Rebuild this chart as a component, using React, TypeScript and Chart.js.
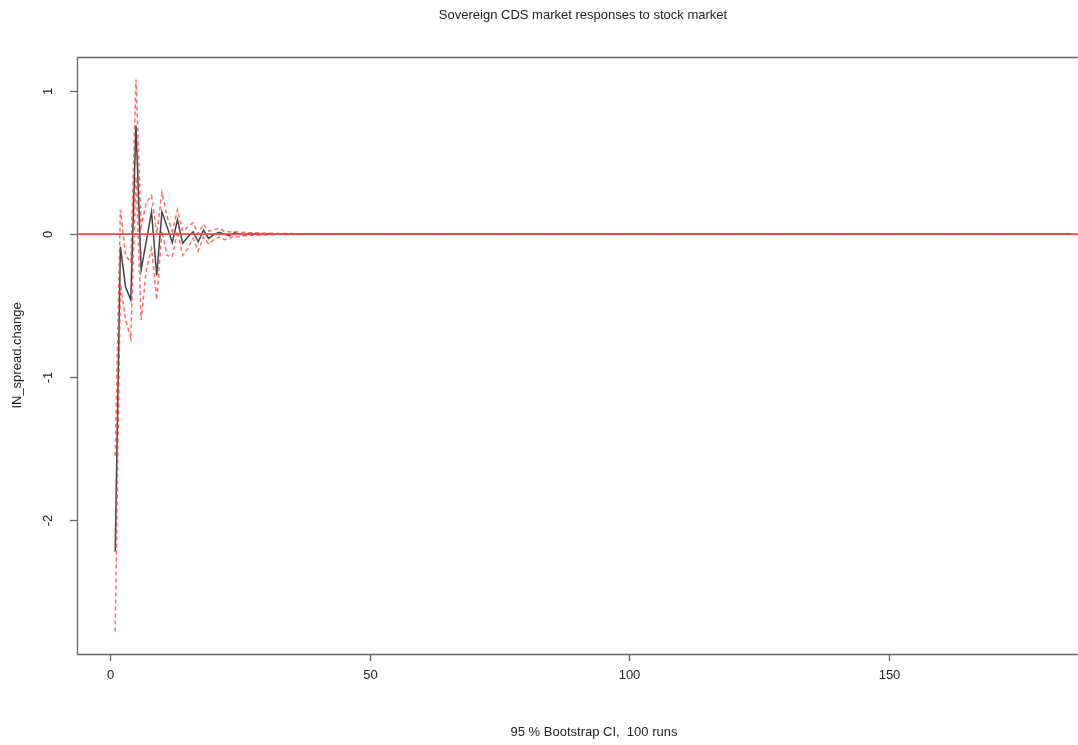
import React, { useEffect, useRef } from "react";
import { Chart, registerables } from "chart.js";

Chart.register(...registerables);

const TITLE = "Sovereign CDS market responses to stock market";
const X_TITLE = "95 % Bootstrap CI,  100 runs";
const Y_TITLE = "IN_spread.change";
const X_TICKS = [0, 50, 100, 150];
const Y_TICKS = [1, 0, -1, -2];

const N_STEPS = 185;

// Impulse response (steps 1..40), flat zero afterwards
const irfHead = [
  -2.22, -0.09, -0.37, -0.46, 0.76, -0.25, -0.05, 0.155, -0.29, 0.155,
  0.05, -0.06, 0.1, -0.065, -0.02, 0.016, -0.054, 0.028, -0.03, -0.005,
  0.012, 0.0, -0.012, 0.008, 0.0, -0.006, 0.004, 0.002, -0.003, 0.002,
  0.0, -0.001, 0.001, 0.0, 0.0, 0.0, 0.0, 0.0, 0.0, 0.0,
];
const upperHead = [
  -1.55, 0.17, -0.15, -0.2, 1.08, 0.05, 0.22, 0.27, 0.0, 0.29,
  0.12, 0.02, 0.17, 0.02, 0.05, 0.08, 0.0, 0.07, 0.02, 0.03,
  0.04, 0.02, 0.015, 0.02, 0.01, 0.012, 0.008, 0.01, 0.006, 0.006,
  0.005, 0.004, 0.004, 0.003, 0.003, 0.002, 0.002, 0.001, 0.001, 0.001,
];
const lowerHead = [
  -2.78, -0.35, -0.6, -0.73, 0.4, -0.6, -0.25, -0.1, -0.46, 0.02,
  -0.15, -0.16, 0.02, -0.15, -0.1, -0.03, -0.12, -0.02, -0.07, -0.04,
  -0.02, -0.04, -0.03, -0.015, -0.02, -0.012, -0.01, -0.008, -0.008, -0.006,
  -0.005, -0.004, -0.004, -0.003, -0.003, -0.002, -0.002, -0.001, -0.001, -0.001,
];
const flatTail = new Array(N_STEPS - irfHead.length).fill(0);

const irf = [...irfHead, ...flatTail];
const upperCI = [...upperHead, ...flatTail];
const lowerCI = [...lowerHead, ...flatTail];

const X_MIN = -6.36;
const X_MAX = 186.5;
const Y_MIN = -2.937;
const Y_MAX = 1.238;

const FONT = '"Liberation Sans", Arial, Helvetica, sans-serif';

const toPoints = (arr: number[]) => arr.map((v, i) => ({ x: i + 1, y: v }));

const framePlugin = {
  id: "rframe",
  afterDatasetsDraw(chart: any) {
    const { ctx, chartArea: a, scales } = chart;
    const xs = scales.x;
    const ys = scales.y;
    ctx.save();
    // zero reference line
    const y0 = ys.getPixelForValue(0);
    ctx.strokeStyle = "rgb(245,70,70)";
    ctx.lineWidth = 1.8;
    ctx.beginPath();
    ctx.moveTo(a.left, y0);
    ctx.lineTo(a.right, y0);
    ctx.stroke();

    // box (left, top, bottom)
    ctx.strokeStyle = "#666";
    ctx.lineWidth = 1.3;
    ctx.beginPath();
    ctx.moveTo(a.right, a.top + 0.5);
    ctx.lineTo(a.left + 0.5, a.top + 0.5);
    ctx.lineTo(a.left + 0.5, a.bottom + 0.5);
    ctx.lineTo(a.right, a.bottom + 0.5);
    ctx.stroke();

    ctx.fillStyle = "#222";
    ctx.font = `13px ${FONT}`;
    ctx.textAlign = "center";
    ctx.textBaseline = "middle";

    // x ticks
    X_TICKS.forEach((t) => {
      const px = Math.round(xs.getPixelForValue(t)) + 0.5;
      ctx.beginPath();
      ctx.moveTo(px, a.bottom);
      ctx.lineTo(px, a.bottom + 7);
      ctx.stroke();
      ctx.fillText(String(t), px, a.bottom + 21);
    });

    // y ticks
    Y_TICKS.forEach((t) => {
      const py = Math.round(ys.getPixelForValue(t)) + 0.5;
      ctx.beginPath();
      ctx.moveTo(a.left, py);
      ctx.lineTo(a.left - 7, py);
      ctx.stroke();
      ctx.save();
      ctx.translate(a.left - 29, py);
      ctx.rotate(-Math.PI / 2);
      ctx.fillText(String(t), 0, 0);
      ctx.restore();
    });

    // titles
    ctx.fillText(TITLE, 583, 15);
    ctx.fillText(X_TITLE, 594, 732);
    ctx.save();
    ctx.translate(17, (a.top + a.bottom) / 2);
    ctx.rotate(-Math.PI / 2);
    ctx.fillText(Y_TITLE, 0, 0);
    ctx.restore();

    ctx.restore();
  },
};

export default function App() {
  const canvasRef = useRef<HTMLCanvasElement | null>(null);

  useEffect(() => {
    document.body.style.margin = "0";
    const canvas = canvasRef.current;
    if (!canvas) return;
    const chart = new Chart(canvas, {
      type: "line",
      data: {
        datasets: [
          {
            label: "irf",
            data: toPoints(irf),
            borderColor: "#444",
            borderWidth: 1.5,
            pointRadius: 0,
            tension: 0,
            fill: false,
            order: 2,
          },
          {
            label: "upper",
            data: toPoints(upperCI),
            borderColor: "rgba(255,60,60,0.75)",
            borderWidth: 1.5,
            borderDash: [4, 3],
            pointRadius: 0,
            tension: 0,
            fill: false,
            order: 1,
          },
          {
            label: "lower",
            data: toPoints(lowerCI),
            borderColor: "rgba(255,60,60,0.75)",
            borderWidth: 1.5,
            borderDash: [4, 3],
            pointRadius: 0,
            tension: 0,
            fill: false,
            order: 1,
          },
        ],
      },
      options: {
        responsive: false,
        animation: false,
        devicePixelRatio: 1,
        layout: { padding: { top: 57, right: 0, left: 0, bottom: 0 } },
        plugins: {
          legend: { display: false },
          tooltip: { enabled: false },
          title: { display: false },
        },
        scales: {
          x: {
            type: "linear",
            min: X_MIN,
            max: X_MAX,
            grid: { display: false },
            border: { display: false },
            ticks: { display: false },
            afterFit: (s: any) => {
              s.height = 91;
            },
          },
          y: {
            type: "linear",
            min: Y_MIN,
            max: Y_MAX,
            grid: { display: false },
            border: { display: false },
            ticks: { display: false },
            afterFit: (s: any) => {
              s.width = 77;
            },
          },
        },
      },
      plugins: [framePlugin],
    });
    return () => chart.destroy();
  }, []);

  return (
    <div style={{ position: "absolute", left: 0, top: 0, width: 1078, height: 745, background: "#fff" }}>
      <canvas ref={canvasRef} width={1078} height={745} />
    </div>
  );
}
